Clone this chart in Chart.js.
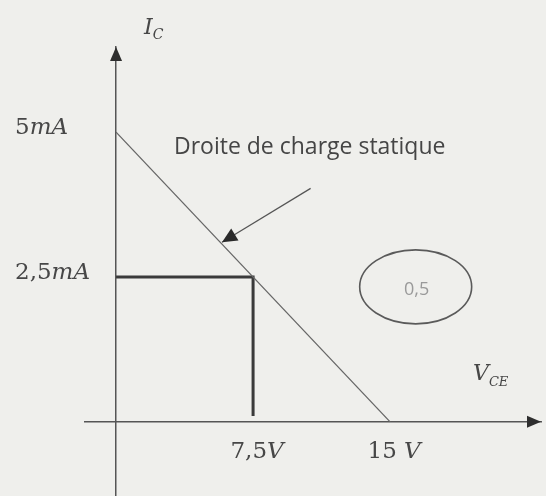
<!DOCTYPE html>
<html>
<head>
<meta charset="utf-8">
<script src="https://cdn.jsdelivr.net/npm/chart.js@4"></script>
<style>
  html, body { margin: 0; padding: 0; background: #efefec; }
  #wrap { width: 546px; height: 496px; }
</style>
</head>
<body>
<div id="wrap"><canvas id="chart"></canvas></div>
<script>
// static load line end points (V_CE in volts, I_C in mA)
const loadV = [0, 15];
const loadI = [5, 0];
// operating point
const qV = 7.5;
const qI = 2.5;
// tick values and their printed numbers
const vTicks = [7.5, 15];
const vTickText = ['7,5', '15 '];
const iTicks = [5, 2.5];
const iTickText = ['5', '2,5'];
const noteText = 'Droite de charge statique';
const ringText = '0,5';

const ink = '#474747';
const serif = '"DejaVu Serif", serif';
const sans = '"Open Sans", sans-serif';

// draw runs of text with different fonts on one baseline
function runs(ctx, parts, x, y, align) {
  let w = 0;
  parts.forEach(p => { ctx.font = p[1]; w += ctx.measureText(p[0]).width; });
  let cx = align === 'center' ? x - w / 2 : x;
  parts.forEach(p => {
    ctx.font = p[1];
    ctx.fillText(p[0], cx, y + (p[2] || 0));
    cx += ctx.measureText(p[0]).width;
  });
}

function arrowHead(ctx, tipX, tipY, angle, len, half) {
  ctx.beginPath();
  ctx.moveTo(tipX, tipY);
  ctx.lineTo(tipX - len * Math.cos(angle) + half * Math.sin(angle), tipY - len * Math.sin(angle) - half * Math.cos(angle));
  ctx.lineTo(tipX - len * Math.cos(angle) - half * Math.sin(angle), tipY - len * Math.sin(angle) + half * Math.cos(angle));
  ctx.closePath();
  ctx.fill();
}

const decor = {
  id: 'decor',
  afterDraw(chart) {
    const { ctx, chartArea: a, scales: { x, y } } = chart;
    const x0 = x.getPixelForValue(0);
    const y0 = y.getPixelForValue(0);
    ctx.save();
    ctx.fillStyle = '#2e2e2e';
    arrowHead(ctx, x0, a.top, -Math.PI / 2, 14, 6);
    arrowHead(ctx, a.right, y0, 0, 14, 6);

    // axis names
    ctx.fillStyle = ink;
    ctx.textBaseline = 'alphabetic';
    runs(ctx, [['I', 'italic 22px ' + serif], ['C', 'italic 14px ' + serif, 5]], x0 + 28, a.top - 13, 'left');
    runs(ctx, [['V', 'italic 22px ' + serif], ['CE', 'italic 13px ' + serif, 6]], a.right - 68, y0 - 42, 'left');

    // tick labels
    ctx.textBaseline = 'middle';
    iTicks.forEach((v, i) => {
      runs(ctx, [[iTickText[i], '23px ' + serif], ['mA', 'italic 23px ' + serif]], a.left - 70, y.getPixelForValue(v) - 4, 'left');
    });
    vTicks.forEach((v, i) => {
      runs(ctx, [[vTickText[i], '23px ' + serif], ['V', 'italic 23px ' + serif]], x.getPixelForValue(v) + 4, y0 + 30, 'center');
    });

    // note with its pointer onto the load line
    ctx.font = '23px ' + sans;
    ctx.textAlign = 'center';
    ctx.fillStyle = '#454545';
    ctx.fillText(noteText, x.getPixelForValue(10.6), y.getPixelForValue(4.73));
    const tx = x.getPixelForValue(5.8), ty = y.getPixelForValue(3.1);
    const sx = x.getPixelForValue(10.65), sy = y.getPixelForValue(4.03);
    ctx.strokeStyle = '#555';
    ctx.lineWidth = 1.2;
    ctx.beginPath();
    ctx.moveTo(sx, sy);
    ctx.lineTo(tx, ty);
    ctx.stroke();
    ctx.fillStyle = '#2a2a2a';
    arrowHead(ctx, tx, ty, Math.atan2(ty - sy, tx - sx), 15, 7);

    // ringed value
    const ex = x.getPixelForValue(16.4), ey = y.getPixelForValue(2.33);
    ctx.strokeStyle = '#5a5a5a';
    ctx.lineWidth = 1.6;
    ctx.beginPath();
    ctx.ellipse(ex, ey, 56, 37, 0, 0, Math.PI * 2);
    ctx.stroke();
    ctx.fillStyle = '#9a9a9a';
    ctx.font = '18px ' + sans;
    ctx.fillText(ringText, ex + 1, ey + 3);
    ctx.restore();
  }
};

new Chart(document.getElementById('chart'), {
  type: 'scatter',
  data: {
    datasets: [
      {
        label: 'Droite de charge',
        data: loadV.map((v, i) => ({ x: v, y: loadI[i] })),
        showLine: true,
        borderColor: '#666',
        borderWidth: 1.3,
        pointRadius: 0
      },
      {
        label: 'Point de fonctionnement',
        data: [{ x: 0, y: qI }, { x: qV, y: qI }, { x: qV, y: 0.1 }],
        showLine: true,
        borderColor: '#3a3a3a',
        borderWidth: 3,
        pointRadius: 0
      }
    ]
  },
  options: {
    responsive: true,
    maintainAspectRatio: false,
    animation: false,
    layout: { padding: { left: 85, right: 5, top: 47, bottom: 0 } },
    plugins: { legend: { display: false }, tooltip: { enabled: false } },
    scales: {
      x: {
        type: 'linear',
        min: -1.7,
        max: 23.26,
        position: { y: 0 },
        grid: { display: false },
        ticks: { display: false },
        border: { color: '#555', width: 1.5 }
      },
      y: {
        type: 'linear',
        min: -1.28,
        max: 6.47,
        position: { x: 0 },
        grid: { display: false },
        ticks: { display: false },
        border: { color: '#555', width: 1.5 }
      }
    }
  },
  plugins: [decor]
});
</script>
</body>
</html>
